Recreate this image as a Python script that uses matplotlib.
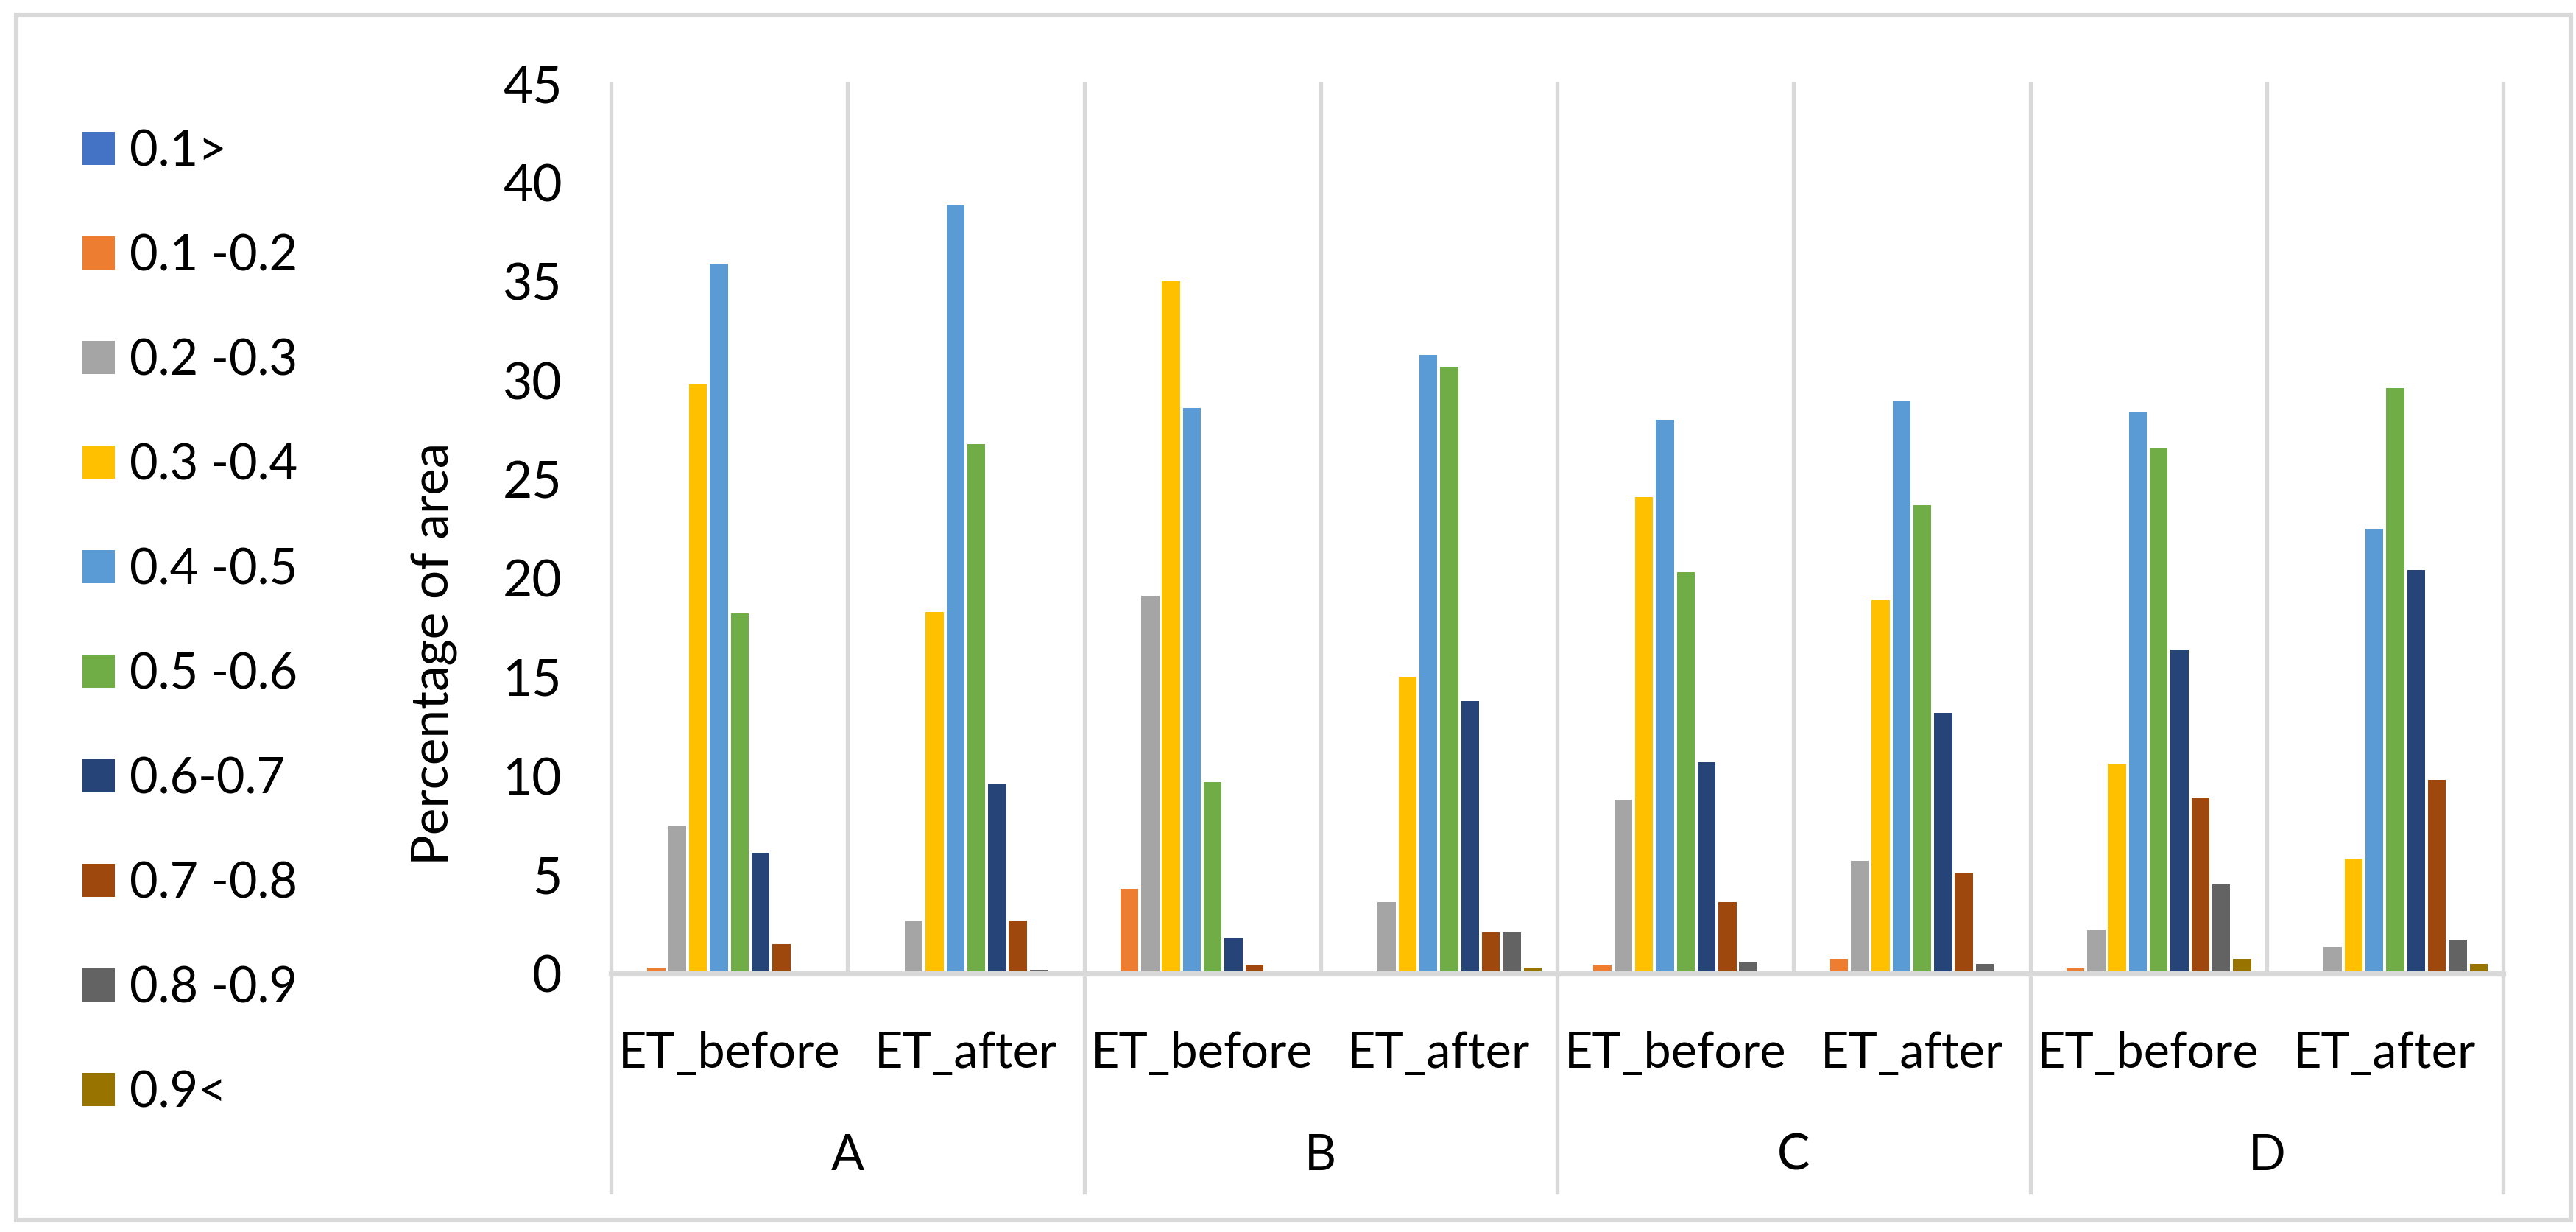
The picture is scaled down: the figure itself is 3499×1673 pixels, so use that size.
import matplotlib
matplotlib.use('Agg')
import matplotlib.pyplot as plt
from matplotlib.patches import Rectangle
from matplotlib.transforms import blended_transform_factory
import numpy as np

plt.rcParams['font.family'] = ['Lato', 'DejaVu Sans']

groups = ['A', 'B', 'C', 'D']
stages = ['ET_before', 'ET_after']
bins = ['0.1>', '0.1 -0.2', '0.2 -0.3', '0.3 -0.4', '0.4 -0.5',
        '0.5 -0.6', '0.6-0.7', '0.7 -0.8', '0.8 -0.9', '0.9<']
colors = ['#4472C4', '#ED7D31', '#A5A5A5', '#FFC000', '#5B9BD5',
          '#70AD47', '#264478', '#9E480E', '#636363', '#997300']

# order: A before, A after, B before, B after, C ..., D ...
bin_00_01 = [0, 0, 0, 0, 0, 0, 0, 0]
bin_01_02 = [0.3, 0, 4.3, 0, 0.45, 0.75, 0.25, 0]
bin_02_03 = [7.5, 2.7, 19.1, 3.6, 8.8, 5.7, 2.2, 1.35]
bin_03_04 = [29.8, 18.3, 35.0, 15.0, 24.1, 18.9, 10.6, 5.8]
bin_04_05 = [35.9, 38.9, 28.6, 31.3, 28.0, 29.0, 28.4, 22.5]
bin_05_06 = [18.2, 26.8, 9.7, 30.7, 20.3, 23.7, 26.6, 29.6]
bin_06_07 = [6.1, 9.6, 1.8, 13.8, 10.7, 13.2, 16.4, 20.4]
bin_07_08 = [1.5, 2.7, 0.45, 2.1, 3.6, 5.1, 8.9, 9.8]
bin_08_09 = [0, 0.2, 0, 2.1, 0.6, 0.5, 4.5, 1.7]
bin_09_10 = [0, 0, 0, 0.3, 0, 0, 0.75, 0.5]

series = [bin_00_01, bin_01_02, bin_02_03, bin_03_04, bin_04_05,
          bin_05_06, bin_06_07, bin_07_08, bin_08_09, bin_09_10]

W, H = 3499, 1673
fig = plt.figure(figsize=(W / 200, H / 200), dpi=200)
ax = fig.add_axes([830 / W, 1 - 1322 / H, (3400 - 830) / W, (1322 - 114) / H])

grid_col = '#d9d9d9'
fs = 24

x = np.arange(len(groups) * len(stages))
pitch = 0.0881
for i, vals in enumerate(series):
    ax.bar(x + (i - 4.5) * pitch, vals, width=0.076, color=colors[i],
           label=bins[i], zorder=3)

ax.set_xlim(-0.5, len(x) - 0.5)
ax.set_ylim(0, 45)
ax.set_yticks(range(0, 46, 5))
ax.tick_params(axis='y', length=0, pad=24, labelsize=fs + 1)
ax.set_xticks(x)
ax.set_xticklabels(stages * len(groups), fontsize=fs)
ax.tick_params(axis='x', length=0, pad=28)

for s in ['left', 'right', 'top']:
    ax.spines[s].set_visible(False)
ax.spines['bottom'].set_color(grid_col)
ax.spines['bottom'].set_linewidth(2.6)
ax.spines['bottom'].set_zorder(4)

trans = blended_transform_factory(ax.transData, ax.transAxes)
# vertical lines between categories; group borders run down through labels
for b in np.arange(-0.5, len(x), 1.0):
    bottom = -0.246 if (b + 0.5) % 2 == 0 else 0
    ax.plot([b, b], [bottom, 1], color=grid_col, lw=1.9, transform=trans,
            clip_on=False, zorder=1)

for g, name in enumerate(groups):
    ax.text(2 * g + 0.5, -0.205, name, transform=trans, ha='center',
            va='center', fontsize=fs)

ax.set_ylabel('Percentage of area', fontsize=fs + 1)
ax.yaxis.set_label_coords(-0.081, 0.359)

fig.legend(loc='center left', bbox_to_anchor=(112 / W, 1 - 845 / H),
           frameon=False, fontsize=fs, borderpad=0, borderaxespad=0,
           handlelength=0.66, handleheight=0.66, handletextpad=0.3,
           labelspacing=1.2)

fig.patches.append(Rectangle((22 / W, 1 - 1657 / H), (3492 - 22) / W,
                             (1657 - 20) / H, transform=fig.transFigure,
                             fill=False, edgecolor=grid_col, lw=2.2))

fig.savefig('out.png', dpi=200, facecolor='white')
